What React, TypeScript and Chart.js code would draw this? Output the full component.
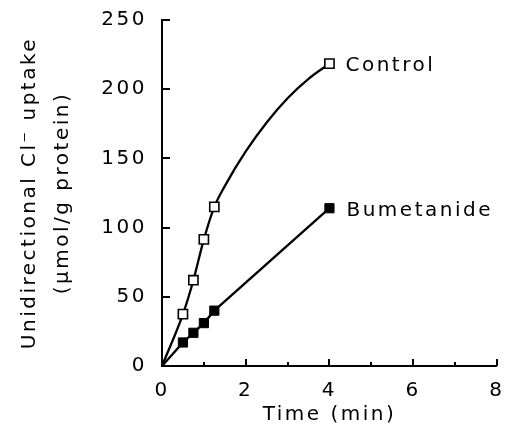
import React, { useEffect, useRef } from 'react';
import { Chart, registerables } from 'chart.js';

Chart.register(...registerables);

// ---- data ----
const controlTime = [0.5, 0.75, 1.0, 1.25, 4];
const controlUptake = [37.5, 62, 91.5, 115, 218.5];

// smooth curve drawn through the control data
const controlCurveTime = [0, 0.5, 0.75, 1.0, 1.25, 1.5, 2, 2.5, 3, 3.5, 4];
const controlCurveUptake = [0, 37.5, 62, 91.5, 115, 130, 155, 176, 193.5, 207.5, 218.5];

const bumetanideTime = [0, 0.5, 0.75, 1.0, 1.25, 4];
const bumetanideUptake = [0, 17, 24, 31, 40, 114];

const xTicksMajor = [0, 2, 4, 6, 8];
const xTicksMinor = [1, 3, 5, 7];
const yTicks = [0, 50, 100, 150, 200, 250];

const seriesLabels = ['Control', 'Bumetanide'];
const xTitle = 'Time (min)';
const yTitle = ['Unidirectional Cl\u207B uptake', '(\u03BCmol/g protein)'];

const FAMILY = '"DejaVu Sans", sans-serif';
const SIZE = 20;
const SPACING = '2.5px';

const zip = (xs: number[], ys: number[]) => xs.map((x, i) => ({ x, y: ys[i] }));

export default function App() {
  const ref = useRef<HTMLCanvasElement>(null);

  useEffect(() => {
    const canvas = ref.current;
    if (!canvas) return;

    const spacingPlugin = {
      id: 'spacing',
      beforeUpdate(chart: any) { chart.ctx.letterSpacing = SPACING; },
      beforeLayout(chart: any) { chart.ctx.letterSpacing = SPACING; },
      beforeDraw(chart: any) { chart.ctx.letterSpacing = SPACING; },
    };

    const inwardTicks = {
      id: 'inwardTicks',
      afterDatasetsDraw(chart: any) {
        const { ctx, chartArea, scales } = chart;
        const xs = scales.x;
        const ys = scales.y;
        ctx.save();
        ctx.strokeStyle = '#000';
        ctx.lineWidth = 2;
        ctx.beginPath();
        yTicks.forEach((v) => {
          const py = Math.round(ys.getPixelForValue(v));
          ctx.moveTo(chartArea.left, py);
          ctx.lineTo(chartArea.left + 8, py);
        });
        xTicksMajor.forEach((v) => {
          const px = Math.round(xs.getPixelForValue(v));
          ctx.moveTo(px, chartArea.bottom);
          ctx.lineTo(px, chartArea.bottom - 7);
        });
        xTicksMinor.forEach((v) => {
          const px = Math.round(xs.getPixelForValue(v));
          ctx.moveTo(px, chartArea.bottom);
          ctx.lineTo(px, chartArea.bottom - 4);
        });
        ctx.stroke();
        ctx.restore();
      },
    };

    const endLabels = {
      id: 'endLabels',
      afterDatasetsDraw(chart: any) {
        const { ctx } = chart;
        ctx.save();
        ctx.letterSpacing = SPACING;
        ctx.font = `${SIZE}px ${FAMILY}`;
        ctx.fillStyle = '#000';
        ctx.textAlign = 'left';
        ctx.textBaseline = 'alphabetic';
        const cm = chart.getDatasetMeta(0).data;
        const cp = cm[cm.length - 1];
        ctx.fillText(seriesLabels[0], cp.x + 16, cp.y + 7.5);
        const bm = chart.getDatasetMeta(1).data;
        const bp = bm[bm.length - 1];
        ctx.fillText(seriesLabels[1], bp.x + 17, bp.y + 8);
        ctx.restore();
      },
    };

    const chart = new Chart(canvas, {
      type: 'scatter',
      data: {
        datasets: [
          {
            label: seriesLabels[0],
            data: zip(controlTime, controlUptake),
            showLine: false,
            pointStyle: 'rect',
            pointRadius: 6.5,
            pointBackgroundColor: '#fff',
            pointBorderColor: '#000',
            pointBorderWidth: 1.6,
          },
          {
            label: seriesLabels[1],
            data: zip(bumetanideTime, bumetanideUptake),
            showLine: true,
            borderColor: '#000',
            borderWidth: 2.3,
            pointStyle: 'rect',
            pointRadius: (c: any) => (c.dataIndex === 0 ? 0 : 6.5),
            pointBackgroundColor: '#000',
            pointBorderColor: '#000',
            pointBorderWidth: 1,
          },
          {
            label: 'Control curve',
            data: zip(controlCurveTime, controlCurveUptake),
            showLine: true,
            borderColor: '#000',
            borderWidth: 2.3,
            pointRadius: 0,
            cubicInterpolationMode: 'monotone',
          },
        ],
      },
      options: {
        responsive: false,
        animation: false,
        events: [],
        layout: { padding: { top: 20, right: 8, left: 0, bottom: 0 } },
        plugins: {
          legend: { display: false },
          tooltip: { enabled: false },
          title: { display: false },
        },
        scales: {
          x: {
            type: 'linear',
            min: 0,
            max: 8,
            afterFit: (s: any) => { s.height = 69; s.paddingLeft = 0; s.paddingRight = 0; },
            grid: { display: false, drawTicks: false, tickLength: 0 },
            border: { display: true, color: '#000', width: 2 },
            ticks: {
              stepSize: 2,
              color: '#000',
              padding: 13,
              maxRotation: 0,
              autoSkip: false,
              font: { family: FAMILY, size: SIZE },
            },
            title: {
              display: true,
              text: xTitle,
              color: '#000',
              font: { family: FAMILY, size: SIZE, lineHeight: 1.2 },
              padding: { top: 0, bottom: 8 },
            },
          },
          y: {
            type: 'linear',
            min: 0,
            max: 250,
            afterFit: (s: any) => { s.width = 162; s.paddingTop = 0; s.paddingBottom = 0; },
            grid: { display: false, drawTicks: false, tickLength: 0 },
            border: { display: true, color: '#000', width: 2 },
            ticks: {
              stepSize: 50,
              color: '#000',
              padding: 15,
              font: { family: FAMILY, size: SIZE },
            },
            title: {
              display: true,
              text: yTitle,
              color: '#000',
              font: { family: FAMILY, size: SIZE, lineHeight: 1.65 },
              padding: { top: 13, bottom: 0 },
            },
          },
        },
      } as any,
      plugins: [spacingPlugin, inwardTicks, endLabels],
    });

    return () => chart.destroy();
  }, []);

  return (
    <canvas
      ref={ref}
      width={505}
      height={435}
      style={{ position: 'absolute', left: 0, top: 0, width: 505, height: 435, background: '#fff' }}
    />
  );
}
